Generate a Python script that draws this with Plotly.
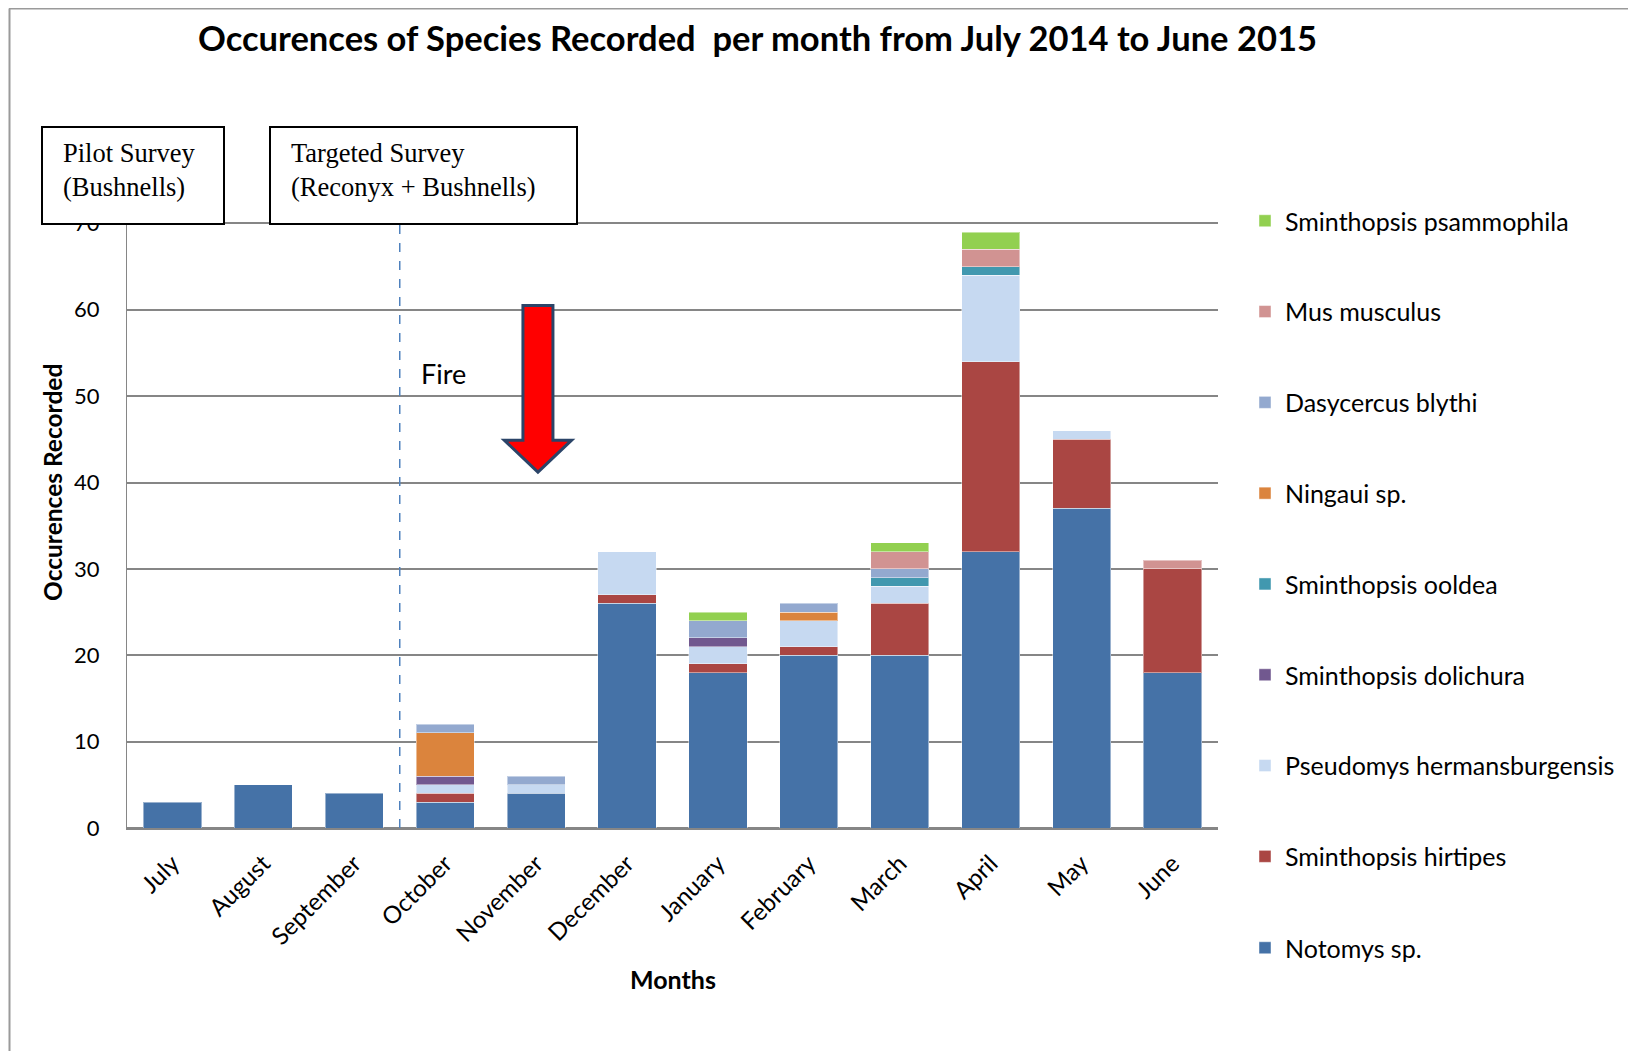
import plotly.graph_objects as go

months = ["July", "August", "September", "October", "November", "December",
          "January", "February", "March", "April", "May", "June"]

notomys = [3, 5, 4, 3, 4, 26, 18, 20, 20, 32, 37, 18]
hirtipes = [0, 0, 0, 1, 0, 1, 1, 1, 6, 22, 8, 12]
pseudomys = [0, 0, 0, 1, 1, 5, 2, 3, 2, 10, 1, 0]
dolichura = [0, 0, 0, 1, 0, 0, 1, 0, 0, 0, 0, 0]
ooldea = [0, 0, 0, 0, 0, 0, 0, 0, 1, 1, 0, 0]
ningaui = [0, 0, 0, 5, 0, 0, 0, 1, 0, 0, 0, 0]
dasycercus = [0, 0, 0, 1, 1, 0, 2, 1, 1, 0, 0, 0]
mus = [0, 0, 0, 0, 0, 0, 0, 0, 2, 2, 0, 1]
psammophila = [0, 0, 0, 0, 0, 0, 1, 0, 1, 2, 0, 0]

series = [
    ("Notomys sp.", notomys, "#4572A7"),
    ("Sminthopsis hirtipes", hirtipes, "#AA4643"),
    ("Pseudomys hermansburgensis", pseudomys, "#C6D9F1"),
    ("Sminthopsis dolichura", dolichura, "#71588F"),
    ("Sminthopsis ooldea", ooldea, "#4198AF"),
    ("Ningaui sp.", ningaui, "#DB843D"),
    ("Dasycercus blythi", dasycercus, "#93A9CF"),
    ("Mus musculus", mus, "#D19392"),
    ("Sminthopsis psammophila", psammophila, "#92D050"),
]

OFF = 8  # page body margin
W, H = 1636 - OFF, 1051 - OFF
L, R, T, B = 127, 1218, 137, 828  # plot area in reference pixels


def px(x):
    return (x - L) / (R - L)


def py(y):
    return (B - y) / (B - T)


fig = go.Figure()
n = len(series)
for i, (name, vals, col) in enumerate(series):
    fig.add_trace(go.Bar(
        x=months, y=[v if v else None for v in vals], name=name,
        marker=dict(color=col, line=dict(color="rgba(255,255,255,0.45)", width=1)),
        legendgroup=f"g{i}", legendrank=n - i,
        legend="legend2" if i == 0 else "legend",
    ))

font = "Lato, 'Open Sans', sans-serif"
serif = "'Liberation Serif', 'Times New Roman', serif"
shapes = []
annotations = []

# outer chart border (top and left)
shapes.append(dict(type="line", xref="paper", yref="paper", x0=px(9), x1=px(1700),
                   y0=py(8.5), y1=py(8.5), line=dict(color="#9a9a9a", width=2), layer="above"))
shapes.append(dict(type="line", xref="paper", yref="paper", x0=px(9.5), x1=px(9.5),
                   y0=py(8.5), y1=py(1100), line=dict(color="#9a9a9a", width=2), layer="above"))

# dashed line between September and October
shapes.append(dict(type="line", xref="x", yref="y", x0=2.5, x1=2.5, y0=0, y1=70,
                   line=dict(color="#4F81BD", width=1.5, dash="dash"), layer="above"))

# red arrow (Fire, November)
cx = 4.02
sw, hw = 0.165, 0.37
ytop, ybase, ytip = 60.5, 44.9, 41.2
path = (f"M {cx-sw},{ytop} L {cx+sw},{ytop} L {cx+sw},{ybase} L {cx+hw},{ybase} "
        f"L {cx},{ytip} L {cx-hw},{ybase} L {cx-sw},{ybase} Z")
shapes.append(dict(type="path", xref="x", yref="y", path=path, fillcolor="#FF0000",
                   line=dict(color="#2B4468", width=3), layer="above"))

# survey boxes
for (x0, x1) in [(42, 224), (270, 577)]:
    shapes.append(dict(type="rect", xref="paper", yref="paper", x0=px(x0), x1=px(x1),
                       y0=py(224), y1=py(127), fillcolor="white",
                       line=dict(color="black", width=2), layer="above"))

annotations.append(dict(xref="paper", yref="paper", x=px(61), y=py(170), xanchor="left",
                        yanchor="middle", align="left", showarrow=False,
                        text="Pilot Survey<br>(Bushnells)",
                        font=dict(family=serif, size=26.5, color="black")))
annotations.append(dict(xref="paper", yref="paper", x=px(289), y=py(170), xanchor="left",
                        yanchor="middle", align="left", showarrow=False,
                        text="Targeted Survey<br>(Reconyx + Bushnells)",
                        font=dict(family=serif, size=26.5, color="black")))
annotations.append(dict(xref="paper", yref="paper", x=px(419), y=py(373), xanchor="left",
                        yanchor="middle", showarrow=False, text="Fire",
                        font=dict(family=font, size=27, color="black")))

# title
annotations.append(dict(xref="paper", yref="paper", x=px(757), y=py(37), xanchor="center",
                        yanchor="middle", showarrow=False,
                        text="<b>Occurences of Species Recorded  per month from July 2014 to June 2015</b>",
                        font=dict(family=font, size=34.5, color="black")))
# axis titles
annotations.append(dict(xref="paper", yref="paper", x=px(673), y=py(979), xanchor="center",
                        yanchor="middle", showarrow=False, text="<b>Months</b>",
                        font=dict(family=font, size=25, color="black")))
annotations.append(dict(xref="paper", yref="paper", x=px(52), y=py(483), xanchor="center",
                        yanchor="middle", showarrow=False, textangle=-90,
                        text="<b>Occurences Recorded</b>",
                        font=dict(family=font, size=24.5, color="black")))

legend_common = dict(x=px(1245), xanchor="left", yanchor="top",
                     traceorder="grouped", tracegroupgap=55.3,
                     font=dict(family=font, size=25, color="black"),
                     itemwidth=30, bgcolor="rgba(0,0,0,0)")

fig.update_layout(
    width=W, height=H,
    margin=dict(l=L - OFF, r=W - (R - OFF), t=T - OFF, b=H - (B - OFF), pad=0),
    barmode="stack", bargap=0.36,
    plot_bgcolor="white", paper_bgcolor="white",
    font=dict(family=font, size=22, color="black"),
    showlegend=True,
    legend=dict(y=py(198), **legend_common),
    legend2=dict(y=py(925), **legend_common),
    shapes=shapes, annotations=annotations,
    xaxis=dict(type="category", tickangle=-45, showgrid=False, showline=True,
               linecolor="#868686", linewidth=2, ticks="", ticklabelstandoff=10,
               tickfont=dict(family=font, size=24)),
    yaxis=dict(range=[0, 80], dtick=10, showgrid=True, gridcolor="#868686",
               gridwidth=2, zeroline=True, zerolinecolor="#868686", zerolinewidth=2,
               showline=True, linecolor="#868686", linewidth=1, ticks="",
               ticklabelstandoff=22, tickfont=dict(family=font, size=22)),
)

fig.write_html("out.html")
